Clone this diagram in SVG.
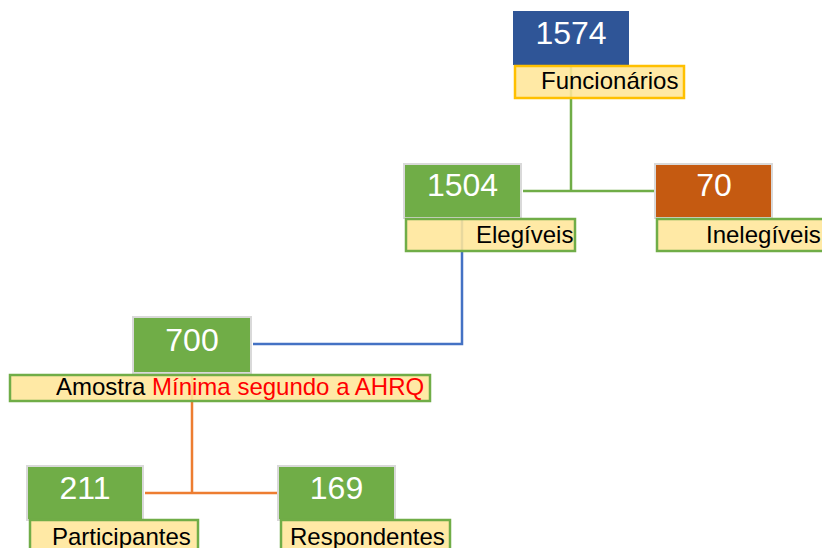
<svg xmlns="http://www.w3.org/2000/svg" width="822" height="548" viewBox="0 0 822 548">
<style>
.num{font-family:"Liberation Sans",Arial,sans-serif;font-size:32px;fill:#ffffff;text-anchor:middle}
.lbl{font-family:"Liberation Sans",Arial,sans-serif;font-size:24px;fill:#000000}
.box{stroke:#D9D9D9;stroke-width:2}
.lb{fill:#FFE699;fill-opacity:0.88;stroke:#70AD47;stroke-width:2.5}
.conn{fill:none;stroke-width:2.5}
</style>
<rect width="822" height="548" fill="#ffffff"/>
<g id="connectors">
<path class="conn" d="M571,64 V191 M523,191 H655" stroke="#70AD47"/>
<path class="conn" d="M462,218 V344 H253" stroke="#4472C4"/>
<path class="conn" d="M192,373 V493 M145,493 H278" stroke="#ED7D31"/>
</g>
<g id="n1574">
<rect x="513" y="11" width="116" height="54" fill="#2F5597"/>
<text class="num" x="571" y="44">1574</text>
<rect class="lb" x="515" y="66" width="169" height="32" style="stroke:#FFC000"/>
<text class="lbl" x="541" y="89">Funcionários</text>
</g>
<g id="n1504">
<rect class="box" x="404" y="164" width="117" height="54" fill="#70AD47"/>
<text class="num" x="462.5" y="196">1504</text>
<rect class="lb" x="406" y="219" width="169" height="32"/>
<text class="lbl" x="476" y="243">Elegíveis</text>
</g>
<g id="n70">
<rect class="box" x="655" y="164" width="117" height="54" fill="#C55A11"/>
<text class="num" x="714" y="196">70</text>
<rect class="lb" x="657" y="219" width="168" height="32"/>
<text class="lbl" x="706" y="243">Inelegíveis</text>
</g>
<g id="n700">
<rect class="box" x="133" y="317" width="118" height="56" fill="#70AD47"/>
<text class="num" x="192" y="351">700</text>
<rect class="lb" x="10" y="375" width="420" height="26"/>
<text class="lbl" x="56" y="395">Amostra <tspan fill="#FF0000">Mínima segundo a AHRQ</tspan></text>
</g>
<g id="n211">
<rect class="box" x="27" y="466" width="116" height="54" fill="#70AD47"/>
<text class="num" x="85" y="499">211</text>
<rect class="lb" x="30" y="520" width="168" height="34"/>
<text class="lbl" x="52" y="545">Participantes</text>
</g>
<g id="n169">
<rect class="box" x="278" y="466" width="117" height="54" fill="#70AD47"/>
<text class="num" x="336.5" y="499">169</text>
<rect class="lb" x="281" y="520" width="169" height="34"/>
<text class="lbl" x="290" y="545">Respondentes</text>
</g>
</svg>
